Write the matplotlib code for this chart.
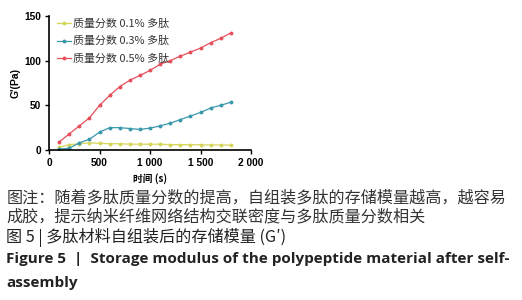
import matplotlib
matplotlib.use("Agg")
import matplotlib.pyplot as plt

plt.rcParams["font.family"] = ["Noto Sans CJK SC", "DejaVu Sans"]

time_s = [100, 200, 300, 400, 500, 600, 700, 800, 900, 1000,
          1100, 1200, 1300, 1400, 1500, 1600, 1700, 1800]
g_01 = [3, 6, 7, 8, 7.5, 7, 7, 6.5, 6.5, 6.5, 6.5, 6, 6, 6, 5.8, 5.6, 5.5, 5.5]
g_03 = [1, 2, 8, 12, 20, 25, 25, 24, 23, 24.5, 27, 30, 34, 38, 42, 47, 50, 53.5]
g_05 = [9, 18, 27, 36, 50, 61, 71, 78, 83.5, 89, 96, 100, 105, 109.5, 114, 120, 125, 131]

series_labels = ["质量分数 0.1% 多肽", "质量分数 0.3% 多肽", "质量分数 0.5% 多肽"]
colors = ["#d6d65a", "#3a98ad", "#e5505c"]

xticks = [0, 500, 1000, 1500, 2000]
xtick_labels = ["0", "500", "1 000", "1 500", "2 000"]
yticks = [0, 50, 100, 150]
ytick_labels = ["0", "50", "100", "150"]

caption_lines = [
    "图注：随着多肽质量分数的提高，自组装多肽的存储模量越高，越容易",
    "成胶，提示纳米纤维网络结构交联密度与多肽质量分数相关",
]
fig_title_cn = "图 5 | 多肽材料自组装后的存储模量 (G′)"
fig_title_en = ["Figure 5  |  Storage modulus of the polypeptide material after self-",
                "assembly"]

fig = plt.figure(figsize=(5.22, 3.0), dpi=100)
ax = fig.add_axes([0.094, 0.5, 0.387, 0.447])

for ys, lab, c in zip([g_01, g_03, g_05], series_labels, colors):
    ax.plot(time_s, ys, color=c, lw=0.9, marker="o", ms=1.8, label=lab)

tick_font = dict(fontsize=7.3, fontweight="bold", family=["Liberation Sans", "DejaVu Sans"])
ax.set_xlim(0, 2000)
ax.set_ylim(0, 150)
ax.set_xticks(xticks)
ax.set_xticklabels(xtick_labels, **tick_font)
ax.set_yticks(yticks)
ax.set_yticklabels(ytick_labels, **tick_font)
ax.spines["top"].set_visible(False)
ax.spines["right"].set_visible(False)
ax.spines["left"].set_linewidth(1.2)
ax.spines["bottom"].set_linewidth(1.2)
ax.tick_params(width=1, length=3, pad=2.5)
ax.set_xlabel("时间 (s)", fontsize=7, fontweight="bold", labelpad=4)
ax.set_ylabel("G'(Pa)", fontsize=7.5, fontweight="bold",
              family=["Liberation Sans", "DejaVu Sans"], labelpad=3)

leg = ax.legend(loc="upper left", bbox_to_anchor=(0.02, 1.01), frameon=False,
                fontsize=7.9, handlelength=1.25, handletextpad=0.2, labelspacing=0.62,
                borderaxespad=0)
for t in leg.get_texts():
    t.set_color("#333333")

cap_color = "#333333"
fig.text(0.012, 1 - 198 / 300, caption_lines[0], fontsize=11.6, va="center", color=cap_color)
fig.text(0.012, 1 - 217 / 300, caption_lines[1], fontsize=11.6, va="center", color=cap_color)
fig.text(0.012, 1 - 237 / 300, fig_title_cn, fontsize=11.6, va="center",
         fontweight="medium", color="#222222")
fig.text(0.012, 1 - 259 / 300, fig_title_en[0], fontsize=11, va="center",
         fontweight="bold", family=["Open Sans", "DejaVu Sans"], color="#222222")
fig.text(0.012, 1 - 283 / 300, fig_title_en[1], fontsize=11, va="center",
         fontweight="bold", family=["Open Sans", "DejaVu Sans"], color="#222222")

fig.savefig("out.png", dpi=100)
